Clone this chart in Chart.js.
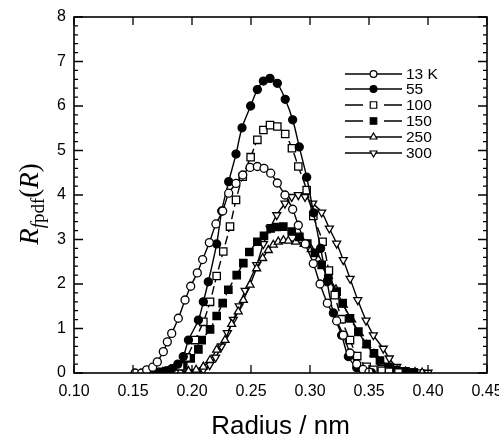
<!DOCTYPE html>
<html>
<head>
<meta charset="utf-8">
<script src="https://cdn.jsdelivr.net/npm/chart.js@4/dist/chart.umd.min.js"></script>
<style>
  html, body { margin: 0; padding: 0; background: #fff; }
  #wrap { width: 499px; height: 443px; }
</style>
</head>
<body>
<div id="wrap"><canvas id="chart"></canvas></div>
<script>
// ---- data (radius in nm, Rfpdf(R)) ----
const seriesNames = ['13 K', '55', '100', '150', '250', '300'];
const xTicks = [0.10, 0.15, 0.20, 0.25, 0.30, 0.35, 0.40, 0.45];
const yTicks = [0, 1, 2, 3, 4, 5, 6, 7, 8];

const r13 = [0.1517, 0.1573, 0.1616, 0.1667, 0.1706, 0.1757, 0.1791, 0.1828, 0.1884, 0.1941, 0.1989, 0.2045, 0.209, 0.2147, 0.2203, 0.226, 0.2311, 0.2373, 0.243, 0.2492, 0.2554, 0.261, 0.2667, 0.2723, 0.2788, 0.2853, 0.2901, 0.296, 0.3028, 0.3085, 0.3147, 0.3226, 0.3282, 0.3339, 0.3396, 0.345, 0.35];
const v13 = [0, 0, 0.07, 0.13, 0.25, 0.48, 0.70, 0.89, 1.23, 1.64, 1.95, 2.25, 2.55, 2.93, 3.35, 3.64, 4.04, 4.26, 4.45, 4.62, 4.64, 4.60, 4.49, 4.27, 4.00, 3.68, 3.32, 2.90, 2.46, 2.00, 1.57, 1.17, 0.85, 0.45, 0.20, 0.08, 0.02];

const r55 = [0.165, 0.172, 0.178, 0.183, 0.188, 0.1926, 0.197, 0.2054, 0.2096, 0.2138, 0.2209, 0.2252, 0.2311, 0.2373, 0.2424, 0.2497, 0.2554, 0.2605, 0.2661, 0.2723, 0.279, 0.2853, 0.2909, 0.2972, 0.303, 0.309, 0.3145, 0.3198, 0.3268, 0.3325, 0.3396, 0.345, 0.352];
const v55 = [0, 0.02, 0.05, 0.10, 0.20, 0.37, 0.74, 1.19, 1.60, 2.05, 2.90, 3.64, 4.30, 4.92, 5.51, 6.00, 6.37, 6.56, 6.62, 6.51, 6.15, 5.69, 5.08, 4.40, 3.60, 2.80, 2.05, 1.35, 0.85, 0.37, 0.12, 0.04, 0.01];

const r100 = [0.17, 0.178, 0.185, 0.19, 0.1955, 0.2025, 0.2096, 0.2153, 0.2209, 0.2265, 0.2322, 0.2373, 0.243, 0.2497, 0.2554, 0.2605, 0.2661, 0.2723, 0.279, 0.2847, 0.2901, 0.2972, 0.3028, 0.3107, 0.316, 0.321, 0.3268, 0.3339, 0.34, 0.348, 0.3537, 0.3608, 0.367, 0.375];
const v100 = [0, 0.02, 0.05, 0.15, 0.35, 0.74, 1.15, 1.60, 2.18, 2.73, 3.29, 3.89, 4.41, 4.85, 5.24, 5.46, 5.57, 5.54, 5.37, 5.05, 4.64, 4.11, 3.53, 2.95, 2.30, 1.75, 1.21, 0.74, 0.38, 0.14, 0.07, 0.05, 0.03, 0.01];

const r150 = [0.165, 0.175, 0.182, 0.1926, 0.1989, 0.2054, 0.2082, 0.2153, 0.2209, 0.226, 0.2308, 0.2379, 0.2435, 0.2486, 0.2554, 0.261, 0.2667, 0.2718, 0.2774, 0.2845, 0.291, 0.2977, 0.3042, 0.3099, 0.3155, 0.3226, 0.3277, 0.3339, 0.341, 0.348, 0.3542, 0.3593, 0.3664, 0.373, 0.38, 0.388];
const v150 = [0, 0.02, 0.05, 0.18, 0.33, 0.53, 0.74, 0.98, 1.28, 1.57, 1.87, 2.20, 2.47, 2.72, 2.95, 3.08, 3.25, 3.28, 3.29, 3.18, 3.06, 2.91, 2.70, 2.43, 2.12, 1.83, 1.57, 1.23, 0.93, 0.65, 0.44, 0.28, 0.14, 0.07, 0.03, 0.01];

const r250 = [0.168, 0.175, 0.182, 0.19, 0.197, 0.2035, 0.2096, 0.2153, 0.2209, 0.228, 0.2336, 0.2392, 0.2435, 0.2492, 0.2548, 0.2599, 0.2647, 0.2689, 0.2731, 0.2775, 0.2816, 0.288, 0.295, 0.301, 0.307, 0.3155, 0.322, 0.3282, 0.3353, 0.3418, 0.348, 0.3542, 0.3608, 0.367, 0.374, 0.381, 0.389, 0.395];
const v250 = [0.02, 0.02, 0.02, 0.03, 0.04, 0.07, 0.14, 0.29, 0.52, 0.74, 1.10, 1.38, 1.64, 1.98, 2.35, 2.58, 2.76, 2.88, 2.95, 2.98, 2.97, 2.95, 2.90, 2.78, 2.55, 2.18, 1.88, 1.53, 1.20, 0.89, 0.63, 0.43, 0.22, 0.12, 0.06, 0.03, 0.02, 0.01];

const r300 = [0.17, 0.178, 0.185, 0.192, 0.199, 0.205, 0.2096, 0.215, 0.22, 0.225, 0.23, 0.235, 0.24, 0.245, 0.2548, 0.2605, 0.2661, 0.2718, 0.2788, 0.2845, 0.2901, 0.2958, 0.3023, 0.3099, 0.3164, 0.3226, 0.3282, 0.334, 0.3405, 0.3475, 0.3537, 0.3621, 0.3672, 0.3735, 0.3805, 0.387, 0.393, 0.40];
const v300 = [0.02, 0.02, 0.02, 0.02, 0.02, 0.03, 0.07, 0.18, 0.35, 0.60, 0.90, 1.20, 1.50, 1.85, 2.43, 2.90, 3.25, 3.55, 3.81, 3.96, 4.00, 3.96, 3.81, 3.61, 3.25, 2.91, 2.54, 2.12, 1.64, 1.18, 0.85, 0.55, 0.33, 0.14, 0.07, 0.04, 0.02, 0.01];

const radii = [r13, r55, r100, r150, r250, r300];
const values = [v13, v55, v100, v150, v250, v300];

// marker / line look per series
const styles = [
  { pointStyle: 'circle', rotation: 0, radius: 4, fill: '#fff', dash: [] },
  { pointStyle: 'circle', rotation: 0, radius: 4, fill: '#000', dash: [] },
  { pointStyle: 'rect', rotation: 0, radius: 5.2, fill: '#fff', dash: [9, 4] },
  { pointStyle: 'rect', rotation: 0, radius: 5.2, fill: '#000', dash: [5, 4] },
  { pointStyle: 'triangle', rotation: 0, radius: 4.6, fill: '#fff', dash: [] },
  { pointStyle: 'triangle', rotation: 180, radius: 4.6, fill: '#fff', dash: [] }
];

const SANS = '"Liberation Sans", Arial, sans-serif';
const SERIF = '"Liberation Serif", "Times New Roman", serif';

const datasets = seriesNames.map((name, i) => ({
  label: name,
  data: radii[i].map((r, k) => ({ x: r, y: values[i][k] })),
  borderColor: '#000',
  borderWidth: 1.4,
  borderDash: styles[i].dash,
  backgroundColor: styles[i].fill,
  pointStyle: styles[i].pointStyle,
  rotation: styles[i].rotation,
  pointRadius: styles[i].radius,
  pointBorderWidth: 1.3,
  pointBorderColor: '#000',
  pointBackgroundColor: styles[i].fill,
  tension: 0.35,
  fill: false
}));

// frame, inward ticks, axis titles and the in-plot legend
const decor = {
  id: 'decor',
  afterDraw(chart) {
    const ctx = chart.ctx;
    const a = chart.chartArea;
    const xs = chart.scales.x, ys = chart.scales.y;
    ctx.save();
    ctx.strokeStyle = '#000';
    ctx.lineWidth = 1.6;
    ctx.strokeRect(a.left, a.top, a.right - a.left, a.bottom - a.top);

    ctx.lineWidth = 1.3;
    ctx.beginPath();
    xTicks.forEach(v => {
      const px = xs.getPixelForValue(v);
      ctx.moveTo(px, a.bottom); ctx.lineTo(px, a.bottom - 8);
      ctx.moveTo(px, a.top); ctx.lineTo(px, a.top + 8);
    });
    yTicks.forEach(v => {
      const py = ys.getPixelForValue(v);
      ctx.moveTo(a.left, py); ctx.lineTo(a.left + 9, py);
      ctx.moveTo(a.right, py); ctx.lineTo(a.right - 9, py);
      if (v < 8) {
        for (let k = 1; k < 5; k++) {
          const pm = ys.getPixelForValue(v + k * 0.2);
          ctx.moveTo(a.left, pm); ctx.lineTo(a.left + 4, pm);
          ctx.moveTo(a.right, pm); ctx.lineTo(a.right - 4, pm);
        }
      }
    });
    ctx.stroke();

    // x title
    ctx.fillStyle = '#000';
    ctx.font = '26px ' + SANS;
    ctx.textAlign = 'center';
    ctx.textBaseline = 'alphabetic';
    ctx.fillText('Radius / nm', (a.left + a.right) / 2, 434);

    // y title: R_fpdf(R)
    const parts = [
      { t: 'R', f: 'italic 27px ' + SERIF, dy: 0 },
      { t: 'f', f: 'italic 19px ' + SERIF, dy: 6 },
      { t: 'pdf', f: '19px ' + SERIF, dy: 6 },
      { t: '(', f: '27px ' + SERIF, dy: 0 },
      { t: 'R', f: 'italic 27px ' + SERIF, dy: 0 },
      { t: ')', f: '27px ' + SERIF, dy: 0 }
    ];
    let total = 0;
    parts.forEach(p => { ctx.font = p.f; p.w = ctx.measureText(p.t).width; total += p.w; });
    ctx.translate(38, 204);
    ctx.rotate(-Math.PI / 2);
    ctx.textAlign = 'left';
    let cx = -total / 2;
    parts.forEach(p => { ctx.font = p.f; ctx.fillText(p.t, cx, p.dy); cx += p.w; });
    ctx.setTransform(1, 0, 0, 1, 0, 0);
    ctx.restore();

    // legend
    ctx.save();
    const rowY = [74, 89, 105, 121, 137, 153];
    chart.data.datasets.forEach((ds, i) => {
      const y = rowY[i];
      ctx.strokeStyle = '#000';
      ctx.lineWidth = 1.3;
      ctx.setLineDash([]);
      ctx.beginPath();
      if (styles[i].dash.length) {
        ctx.moveTo(345, y); ctx.lineTo(363, y);
        ctx.moveTo(384, y); ctx.lineTo(402, y);
      } else {
        ctx.moveTo(345, y); ctx.lineTo(402, y);
      }
      ctx.stroke();
      ctx.fillStyle = styles[i].fill;
      ctx.lineWidth = 1.2;
      Chart.helpers.drawPoint(ctx, {
        pointStyle: styles[i].pointStyle,
        rotation: styles[i].rotation,
        radius: styles[i].radius - 0.6,
        borderWidth: 1.2
      }, 373.5, y);
      ctx.fillStyle = '#000';
      ctx.font = '15.5px ' + SANS;
      ctx.textAlign = 'left';
      ctx.textBaseline = 'middle';
      ctx.fillText(ds.label, 406, y + 1);
    });
    ctx.restore();
  }
};

new Chart(document.getElementById('chart'), {
  type: 'line',
  data: { datasets },
  options: {
    responsive: true,
    maintainAspectRatio: false,
    animation: false,
    layout: { padding: { left: 0, top: 17, right: 12, bottom: 0 } },
    plugins: { legend: { display: false }, tooltip: { enabled: false } },
    scales: {
      x: {
        type: 'linear',
        min: 0.10,
        max: 0.45,
        afterBuildTicks: s => { s.ticks = xTicks.map(v => ({ value: v })); },
        afterFit: s => { s.height = 70; s.paddingLeft = 0; s.paddingRight = 0; },
        grid: { display: false, drawTicks: false },
        border: { display: false },
        ticks: {
          color: '#000',
          padding: 9,
          maxRotation: 0,
          font: { family: SANS, size: 16 },
          callback: v => v.toFixed(2)
        }
      },
      y: {
        min: 0,
        max: 8,
        afterBuildTicks: s => { s.ticks = yTicks.map(v => ({ value: v })); },
        afterFit: s => { s.width = 74; s.paddingTop = 0; s.paddingBottom = 0; },
        grid: { display: false, drawTicks: false },
        border: { display: false },
        ticks: {
          color: '#000',
          padding: 8,
          font: { family: SANS, size: 16 }
        }
      }
    }
  },
  plugins: [decor]
});
</script>
</body>
</html>
